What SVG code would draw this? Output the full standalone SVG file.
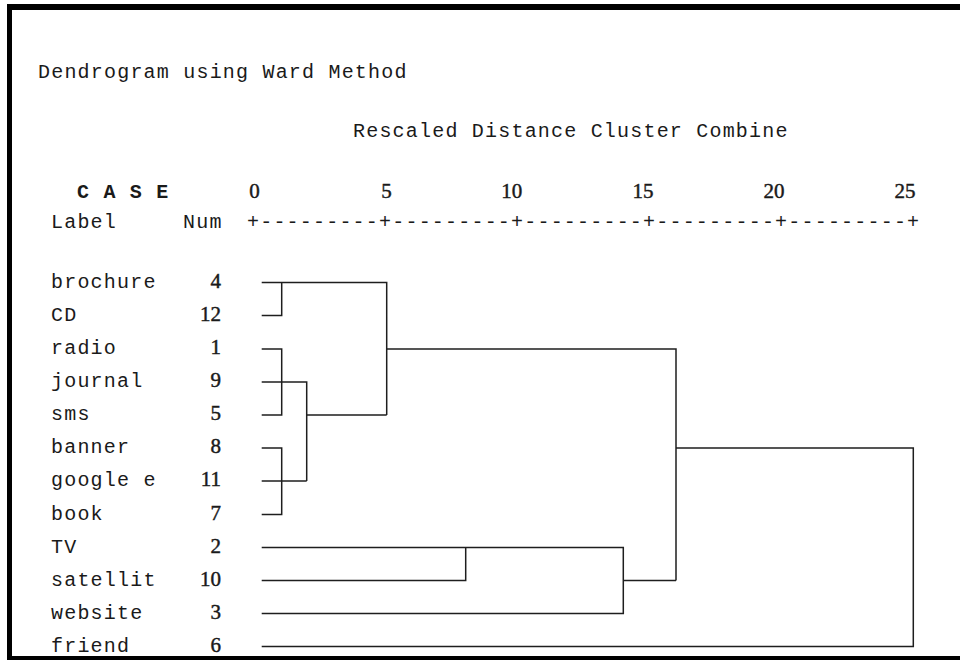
<svg xmlns="http://www.w3.org/2000/svg" width="960" height="660" viewBox="0 0 960 660">
<style>
.mono{font-family:"Liberation Mono","Courier New",monospace;font-size:20px;letter-spacing:1.2px;fill:#1a1a1a}
.bold{font-weight:bold}
.num{font-family:"Liberation Serif","Times New Roman",serif;font-size:21px;fill:#1a1a1a;stroke:#1a1a1a;stroke-width:0.45}
.ln{fill:none;stroke:#1e1e1e;stroke-width:1.5}
</style>
<rect width="960" height="660" fill="#ffffff"/>
<g id="frame" fill="#000000">
<rect x="7" y="4" width="953" height="6"/>
<rect x="7" y="4" width="5" height="656"/>
<rect x="7" y="656" width="953" height="4"/>
</g>
<g id="header">
<text class="mono" x="38" y="78">Dendrogram using Ward Method</text>
<text class="mono" x="353" y="137">Rescaled Distance Cluster Combine</text>
<text class="mono bold" x="77" y="198">C A S E</text>
<text class="mono" x="51" y="228">Label</text>
<text class="mono" x="183" y="228">Num</text>
<text class="mono" x="247" y="228">+---------+---------+---------+---------+---------+</text>
<g id="axis-numbers" text-anchor="middle">
<text class="num" x="254.5" y="198">0</text>
<text class="num" x="386.5" y="198">5</text>
<text class="num" x="511.7" y="198">10</text>
<text class="num" x="643" y="198">15</text>
<text class="num" x="774" y="198">20</text>
<text class="num" x="905" y="198">25</text>
</g>
</g>
<g id="case-brochure"><text class="mono" x="51" y="287.5">brochure</text><text class="num" x="221" y="287.5" text-anchor="end">4</text></g>
<g id="case-CD"><text class="mono" x="51" y="320.5">CD</text><text class="num" x="221" y="320.5" text-anchor="end">12</text></g>
<g id="case-radio"><text class="mono" x="51" y="354">radio</text><text class="num" x="221" y="354" text-anchor="end">1</text></g>
<g id="case-journal"><text class="mono" x="51" y="387">journal</text><text class="num" x="221" y="387" text-anchor="end">9</text></g>
<g id="case-sms"><text class="mono" x="51" y="420">sms</text><text class="num" x="221" y="420" text-anchor="end">5</text></g>
<g id="case-banner"><text class="mono" x="51" y="453">banner</text><text class="num" x="221" y="453" text-anchor="end">8</text></g>
<g id="case-google"><text class="mono" x="51" y="486">google e</text><text class="num" x="221" y="486" text-anchor="end">11</text></g>
<g id="case-book"><text class="mono" x="51" y="519.5">book</text><text class="num" x="221" y="519.5" text-anchor="end">7</text></g>
<g id="case-TV"><text class="mono" x="51" y="552.5">TV</text><text class="num" x="221" y="552.5" text-anchor="end">2</text></g>
<g id="case-satellit"><text class="mono" x="51" y="585.5">satellit</text><text class="num" x="221" y="585.5" text-anchor="end">10</text></g>
<g id="case-website"><text class="mono" x="51" y="618.5">website</text><text class="num" x="221" y="618.5" text-anchor="end">3</text></g>
<g id="case-friend"><text class="mono" x="51" y="651.5">friend</text><text class="num" x="221" y="651.5" text-anchor="end">6</text></g>
<g id="connectors" class="ln">
<path class="ln" d="M261.7 282.5 H386.7 V415 M281.7 282.5 V315.5 H261.7"/>
<path class="ln" d="M261.7 349 H281.7 V415 H261.7 M261.7 382 H306.7 V481"/>
<path class="ln" d="M261.7 448 H281.7 V514.5 H261.7 M261.7 481 H306.7 M306.7 415 H386.7"/>
<path class="ln" d="M386.7 349 H676 V580.5"/>
<path class="ln" d="M261.7 547.5 H623.3 V613.5 H261.7 M261.7 580.5 H465.7 V547.5 M623.3 580.5 H676"/>
<path class="ln" d="M676 448 H913.3 V646.5 H261.7"/>
</g>
</svg>
